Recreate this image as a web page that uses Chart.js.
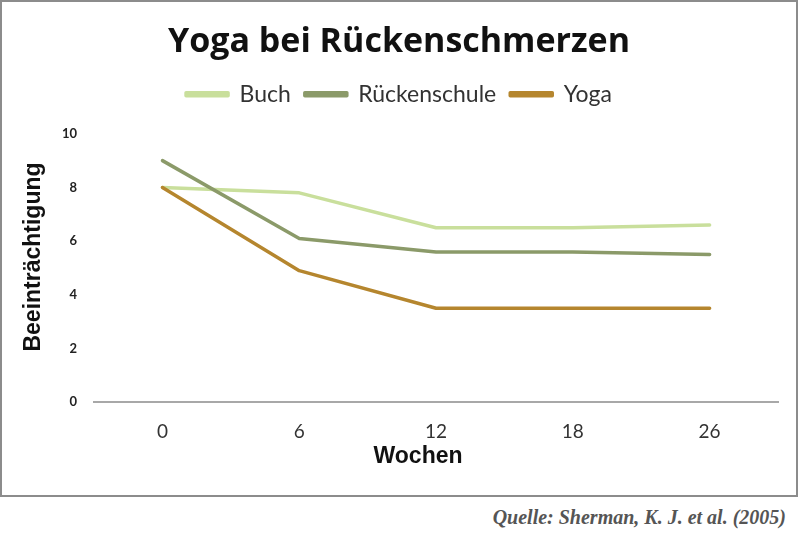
<!DOCTYPE html>
<html>
<head>
<meta charset="utf-8">
<script src="https://cdn.jsdelivr.net/npm/chart.js@4"></script>
<style>
  body { margin: 0; background: #fff; }
  .box {
    position: absolute; left: 0; top: 0;
    width: 794px; height: 493px;
    border: 2px solid #8c8c8c;
  }
  .source {
    position: absolute; right: 14px; top: 506px;
    font-family: "Liberation Serif", serif;
    font-style: italic; font-weight: bold;
    font-size: 20px; color: #555;
  }
</style>
</head>
<body>
<div class="box"><canvas id="chart" width="794" height="493"></canvas></div>
<div class="source">Quelle: Sherman, K. J. et al. (2005)</div>
<script>
/*------Daten--------*/
const wochen = ['0', '6', '12', '18', '26'];
const buch = [8.0, 7.8, 6.5, 6.5, 6.6];
const rueckenschule = [9.0, 6.1, 5.6, 5.6, 5.5];
const yoga = [8.0, 4.9, 3.5, 3.5, 3.5];
const yTicks = [0, 2, 4, 6, 8, 10];
const xTitel = 'Wochen';
const yTitel = 'Beeinträchtigung';

/*------etwas Abstand unter der Legende--------*/
const legendeAbstand = {
    id: 'legendeAbstand',
    beforeInit: function (chart) {
        const fitAlt = chart.legend.fit;
        chart.legend.fit = function () {
            fitAlt.bind(chart.legend)();
            this.height += 18;
        };
    }
};

/*------Achsentitel, nicht ganz mittig wie im Original--------*/
const achsenTitel = {
    id: 'achsenTitel',
    afterDraw: function (chart) {
        const c = chart.ctx;
        const x = chart.scales.x;
        const y = chart.scales.y;
        c.save();
        c.font = 'bold 23px "Liberation Sans"';
        c.fillStyle = '#111';
        c.textAlign = 'center';
        c.textBaseline = 'middle';
        c.fillText(xTitel, (x.left + x.right) / 2 - 18, x.top + 54);
        c.translate(32, (y.top + y.bottom) / 2 - 11);
        c.rotate(-Math.PI / 2);
        c.fillText(yTitel, 0, 0);
        c.restore();
    }
};

function linie(label, data, farbe, order) {
    return {
        label: label,
        data: data,
        borderColor: farbe,
        backgroundColor: farbe,
        borderWidth: 3.5,
        borderCapStyle: 'round',
        borderJoinStyle: 'round',
        pointRadius: 0,
        tension: 0,
        order: order
    };
}

const ctx = document.getElementById('chart').getContext('2d');
const chart = new Chart(ctx, {
    type: 'line',
    data: {
        labels: wochen,
        datasets: [
            linie('Buch', buch, '#c9df9c', 2),
            linie('Rückenschule', rueckenschule, '#8b9a69', 1),
            linie('Yoga', yoga, '#b5862e', 0)
        ]
    },
    plugins: [legendeAbstand, achsenTitel],
    options: {
        responsive: false,
        animation: false,
        layout: { padding: { left: 18, right: 18, top: 20, bottom: 34 } },
        plugins: {
            title: {
                display: true,
                text: 'Yoga bei Rückenschmerzen',
                color: '#111',
                font: { family: 'Open Sans', weight: 'bold', size: 34 },
                padding: { top: 0, bottom: 6 }
            },
            legend: {
                labels: {
                    color: '#333',
                    font: { family: 'Lato', size: 23 },
                    boxWidth: 42,
                    boxHeight: 3,
                    padding: 14,
                    sort: function (a, b) { return a.datasetIndex - b.datasetIndex; }
                }
            },
            tooltip: { enabled: false }
        },
        scales: {
            x: {
                offset: true,
                grid: { display: false, drawTicks: false },
                border: { display: true, color: '#a8a8a8', width: 2 },
                ticks: {
                    color: '#333',
                    font: { family: 'Lato', size: 19 },
                    padding: 18
                }
            },
            y: {
                min: 0,
                max: 10,
                afterBuildTicks: function (axis) {
                    axis.ticks = yTicks.map(function (v) { return { value: v }; });
                },
                afterFit: function (axis) {
                    axis.width += 25;
                },
                grid: { display: false, drawTicks: false },
                border: { display: false },
                ticks: {
                    color: '#222',
                    font: { family: 'Lato', size: 13, weight: 'bold' },
                    padding: 17
                }
            }
        }
    }
});
</script>
</body>
</html>
